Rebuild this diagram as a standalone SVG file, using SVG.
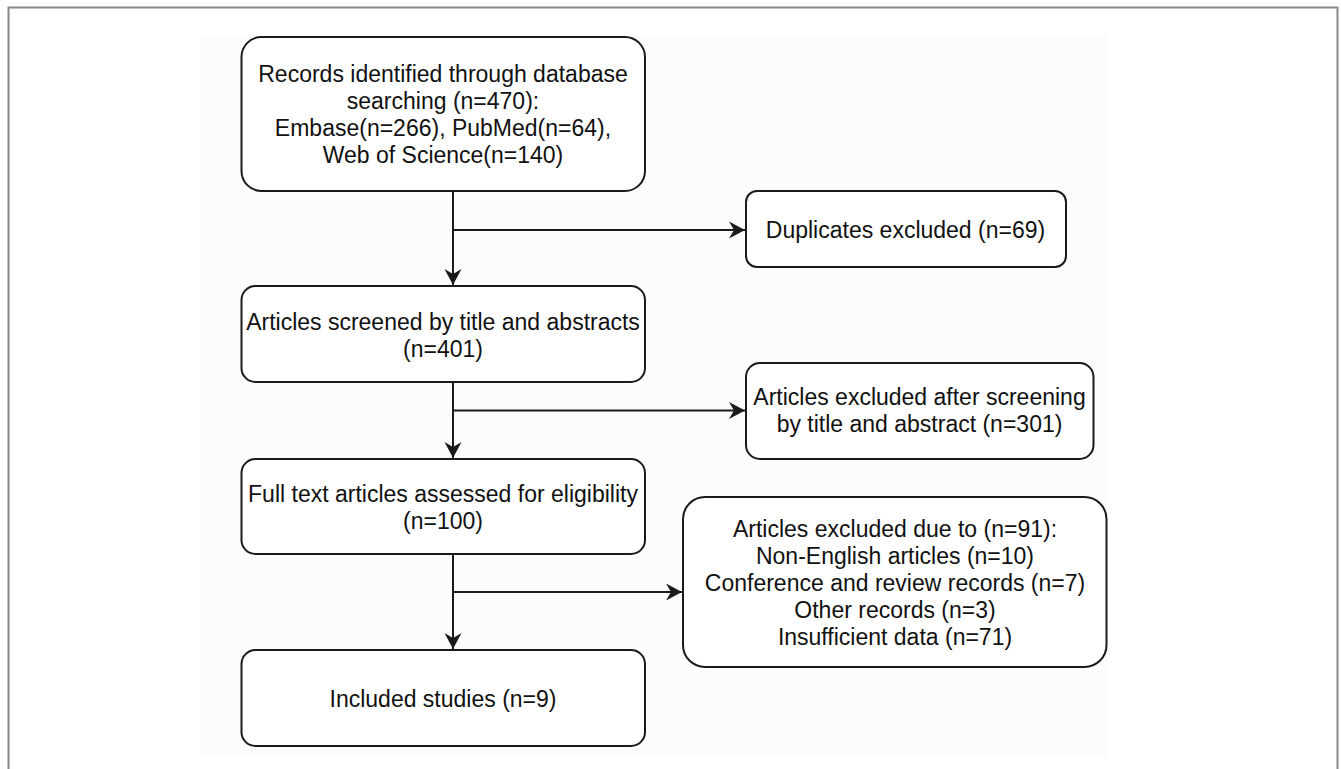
<svg xmlns="http://www.w3.org/2000/svg" width="1341" height="769" viewBox="0 0 1341 769">
<style>
.box{fill:#ffffff;stroke:#1a1a1a;stroke-width:2}
.t{font-family:"Liberation Sans",Arial,sans-serif;font-size:23px;fill:#111111;text-anchor:middle}
.c{fill:none;stroke:#1a1a1a;stroke-width:2}
</style>
<defs>
<marker id="ah" markerUnits="userSpaceOnUse" markerWidth="20" markerHeight="20" viewBox="-17 -10 20 20" refX="0" refY="0" orient="auto">
<path d="M0,0 L-16,-8.5 L-11,0 L-16,8.5 Z" fill="#1a1a1a"/>
</marker>
</defs>
<rect x="0" y="0" width="1341" height="769" fill="#ffffff"/>
<rect x="8.5" y="7.5" width="1329" height="800" fill="none" stroke="#888888" stroke-width="2"/>
<rect x="200" y="35" width="908" height="722" fill="#fcfcfc"/>

<g id="connectors">
<line class="c" x1="453" y1="191" x2="453" y2="285" marker-end="url(#ah)"/>
<line class="c" x1="453" y1="230" x2="745" y2="230" marker-end="url(#ah)"/>
<line class="c" x1="453" y1="382" x2="453" y2="458" marker-end="url(#ah)"/>
<line class="c" x1="453" y1="410.5" x2="745" y2="410.5" marker-end="url(#ah)"/>
<line class="c" x1="453" y1="554" x2="453" y2="649" marker-end="url(#ah)"/>
<line class="c" x1="453" y1="592" x2="682" y2="592" marker-end="url(#ah)"/>
</g>

<g id="records">
<rect class="box" x="241.5" y="37" width="403.5" height="154" rx="20" ry="20"/>
<text class="t" x="443" y="82">Records identified through database</text>
<text class="t" x="443" y="109">searching (n=470):</text>
<text class="t" x="443" y="136">Embase(n=266), PubMed(n=64),</text>
<text class="t" x="443" y="163">Web of Science(n=140)</text>
</g>

<g id="duplicates">
<rect class="box" x="746" y="191" width="320" height="76" rx="11" ry="11"/>
<text class="t" x="905.5" y="237.5">Duplicates excluded (n=69)</text>
</g>

<g id="screened">
<rect class="box" x="241.5" y="286" width="403.5" height="96" rx="14" ry="14"/>
<text class="t" x="443" y="330">Articles screened by title and abstracts</text>
<text class="t" x="443" y="357">(n=401)</text>
</g>

<g id="excluded-screening">
<rect class="box" x="746" y="363" width="347.5" height="96" rx="14" ry="14"/>
<text class="t" x="919.5" y="405">Articles excluded after screening</text>
<text class="t" x="919.5" y="432">by title and abstract (n=301)</text>
</g>

<g id="fulltext">
<rect class="box" x="241.5" y="459" width="403.5" height="95" rx="14" ry="14"/>
<text class="t" x="443" y="502">Full text articles assessed for eligibility</text>
<text class="t" x="443" y="529">(n=100)</text>
</g>

<g id="excluded-fulltext">
<rect class="box" x="683" y="497" width="423.5" height="170" rx="22" ry="22"/>
<text class="t" x="895" y="537">Articles excluded due to (n=91):</text>
<text class="t" x="895" y="564">Non-English articles (n=10)</text>
<text class="t" x="895" y="591">Conference and review records (n=7)</text>
<text class="t" x="895" y="618">Other records (n=3)</text>
<text class="t" x="895" y="645">Insufficient data (n=71)</text>
</g>

<g id="included">
<rect class="box" x="241.5" y="650" width="403.5" height="96" rx="14" ry="14"/>
<text class="t" x="443" y="707">Included studies (n=9)</text>
</g>
</svg>
